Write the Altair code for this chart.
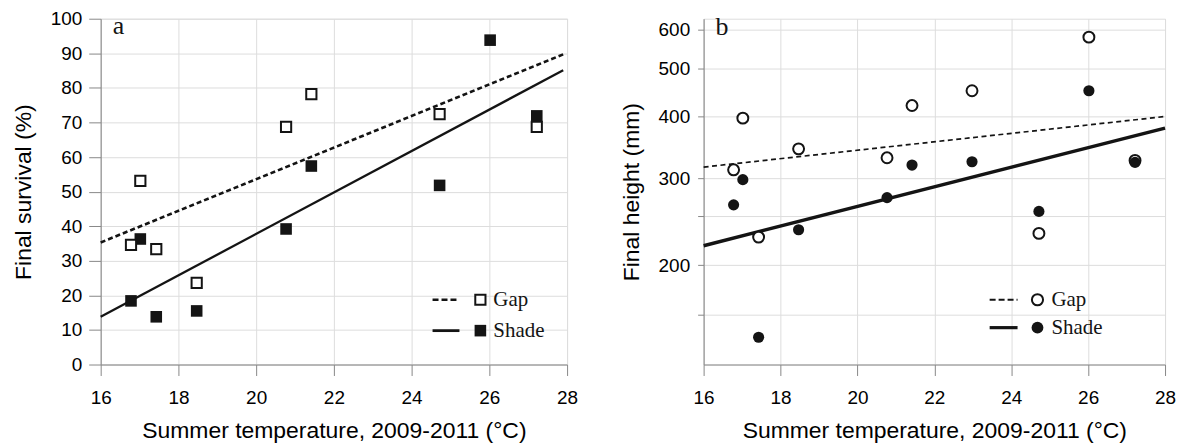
import altair as alt
import pandas as pd

# ---------------- data ----------------
temps = [16.78, 17.02, 17.43, 18.47, 20.77, 21.42, 22.98, 24.72, 26.02, 27.22]
gap_survival = [34.6, 53.1, 33.4, 23.6, 68.7, 78.2, None, 72.4, None, 68.7]
shade_survival = [18.4, 36.3, 13.8, 15.5, 39.2, 57.4, None, 51.8, 93.8, 71.9]
gap_height = [312, 397, 228, 344, 330, 421, 451, 232, 579, 326]
shade_height = [265, 298, 143, 236, 274, 319, 324, 257, 451, 323]

fit_x_a = [16.0, 27.9]
gap_fit_a = [35.3, 89.7]
shade_fit_a = [13.8, 85.1]
fit_x_b = [16.0, 28.0]
gap_fit_b = [316, 400]
shade_fit_b = [219, 379]

x_ticks = [16, 18, 20, 22, 24, 26, 28]
y_ticks_a = [0, 10, 20, 30, 40, 50, 60, 70, 80, 90, 100]
y_ticks_b = [158.5, 200, 251.2, 300, 400, 500, 600]

SANS = "Liberation Sans"
SERIF = "Liberation Serif"
INK = "#141414"
X_TITLE = "Summer temperature, 2009-2011 (°C)"

pts = pd.DataFrame({"temp": temps, "gap_s": gap_survival, "shade_s": shade_survival,
                    "gap_h": gap_height, "shade_h": shade_height})
fit_a = pd.DataFrame({"x": fit_x_a, "gap": gap_fit_a, "shade": shade_fit_a})
fit_b = pd.DataFrame({"x": fit_x_b, "gap": gap_fit_b, "shade": shade_fit_b})
one = pd.DataFrame({"k": [0]})


def x_enc(field):
    return alt.X(field, type="quantitative",
                 scale=alt.Scale(domain=[16, 28], nice=False, zero=False),
                 axis=alt.Axis(values=x_ticks, title=X_TITLE, tickSize=11, labelPadding=13,
                               titlePadding=12, labelFontSize=19, titleFontSize=23,
                               titleFontWeight="normal", labelFlush=False))


W_A, W_B, H = 468, 463, 347

# ---------------- panel a ----------------
ya_scale = alt.Scale(domain=[0, 100], nice=False)
ya_axis = alt.Axis(values=y_ticks_a, title="Final survival (%)", tickSize=12, labelPadding=7,
                   titlePadding=15, labelFontSize=19, titleFontSize=23, titleFontWeight="normal")

line_gap_a = alt.Chart(fit_a).mark_line(color=INK, strokeWidth=2.6, strokeDash=[5, 3]).encode(
    x=x_enc("x"), y=alt.Y("gap:Q", scale=ya_scale, axis=ya_axis))
line_shade_a = alt.Chart(fit_a).mark_line(color=INK, strokeWidth=2.3).encode(
    x=x_enc("x"), y=alt.Y("shade:Q", scale=ya_scale, axis=ya_axis))
shade_a = alt.Chart(pts).mark_point(shape="square", filled=True, color=INK, size=135, opacity=1).encode(
    x=x_enc("temp"), y=alt.Y("shade_s:Q", scale=ya_scale, axis=ya_axis))
gap_a = alt.Chart(pts).mark_point(shape="square", filled=True, fill="white", stroke=INK,
                                  strokeWidth=2, size=105, opacity=1).encode(
    x=x_enc("temp"), y=alt.Y("gap_s:Q", scale=ya_scale, axis=ya_axis))

leg_a = [
    alt.Chart(one).mark_rule(color=INK, strokeWidth=2.6, strokeDash=[6, 3]).encode(
        x=alt.value(333), x2=alt.value(360), y=alt.value(282)),
    alt.Chart(one).mark_point(shape="square", filled=True, fill="white", stroke=INK,
                              strokeWidth=2, size=105, opacity=1).encode(
        x=alt.value(381), y=alt.value(282)),
    alt.Chart(one).mark_text(font=SERIF, fontSize=21, align="left", baseline="middle", color=INK).encode(
        x=alt.value(394), y=alt.value(282), text=alt.value("Gap")),
    alt.Chart(one).mark_rule(color=INK, strokeWidth=2.8).encode(
        x=alt.value(333), x2=alt.value(360), y=alt.value(313)),
    alt.Chart(one).mark_point(shape="square", filled=True, color=INK, size=135, opacity=1).encode(
        x=alt.value(381), y=alt.value(313)),
    alt.Chart(one).mark_text(font=SERIF, fontSize=21, align="left", baseline="middle", color=INK).encode(
        x=alt.value(394), y=alt.value(313), text=alt.value("Shade")),
    alt.Chart(one).mark_text(font=SERIF, fontSize=26, align="left", baseline="alphabetic", color=INK).encode(
        x=alt.value(12), y=alt.value(15), text=alt.value("a")),
]

panel_a = alt.layer(line_gap_a, line_shade_a, shade_a, gap_a, *leg_a).properties(width=W_A, height=H)

# ---------------- panel b ----------------
yb_scale = alt.Scale(type="log", domain=[125.9, 631], nice=False)
yb_axis = alt.Axis(values=y_ticks_b, title="Final height (mm)", tickSize=6, labelPadding=8,
                   titlePadding=15, labelFontSize=19, titleFontSize=23, titleFontWeight="normal",
                   labelExpr="indexof([200,300,400,500,600], datum.value) >= 0 ? datum.label : ''")

line_gap_b = alt.Chart(fit_b).mark_line(color=INK, strokeWidth=1.7, strokeDash=[5, 3.5]).encode(
    x=x_enc("x"), y=alt.Y("gap:Q", scale=yb_scale, axis=yb_axis))
line_shade_b = alt.Chart(fit_b).mark_line(color=INK, strokeWidth=3.4).encode(
    x=x_enc("x"), y=alt.Y("shade:Q", scale=yb_scale, axis=yb_axis))
gap_b = alt.Chart(pts).mark_point(shape="circle", filled=True, fill="white", stroke=INK,
                                  strokeWidth=2, size=120, opacity=1).encode(
    x=x_enc("temp"), y=alt.Y("gap_h:Q", scale=yb_scale, axis=yb_axis))
shade_b = alt.Chart(pts).mark_point(shape="circle", filled=True, color=INK, size=125, opacity=1).encode(
    x=x_enc("temp"), y=alt.Y("shade_h:Q", scale=yb_scale, axis=yb_axis))

leg_b = [
    alt.Chart(one).mark_rule(color=INK, strokeWidth=2.2, strokeDash=[6, 3]).encode(
        x=alt.value(287), x2=alt.value(315), y=alt.value(282)),
    alt.Chart(one).mark_point(shape="circle", filled=True, fill="white", stroke=INK,
                              strokeWidth=2, size=125, opacity=1).encode(
        x=alt.value(335), y=alt.value(282)),
    alt.Chart(one).mark_text(font=SERIF, fontSize=21, align="left", baseline="middle", color=INK).encode(
        x=alt.value(349), y=alt.value(282), text=alt.value("Gap")),
    alt.Chart(one).mark_rule(color=INK, strokeWidth=3.2).encode(
        x=alt.value(287), x2=alt.value(315), y=alt.value(310)),
    alt.Chart(one).mark_point(shape="circle", filled=True, color=INK, size=140, opacity=1).encode(
        x=alt.value(335), y=alt.value(310)),
    alt.Chart(one).mark_text(font=SERIF, fontSize=21, align="left", baseline="middle", color=INK).encode(
        x=alt.value(349), y=alt.value(310), text=alt.value("Shade")),
    alt.Chart(one).mark_text(font=SERIF, fontSize=26, align="left", baseline="alphabetic", color=INK).encode(
        x=alt.value(12), y=alt.value(16), text=alt.value("b")),
]

panel_b = alt.layer(line_gap_b, line_shade_b, gap_b, shade_b, *leg_b).properties(width=W_B, height=H)

chart = alt.hconcat(panel_a, panel_b, spacing=40).properties(
    padding={"left": 3, "top": 0, "right": 0, "bottom": 0}
).configure_view(stroke=None).configure_axis(
    grid=False, labelFont=SANS, titleFont=SANS, labelColor=INK, titleColor=INK,
    domainColor=INK, tickColor=INK, domainWidth=1.6, tickWidth=1.6, titleFontWeight="normal"
).configure(background="white")

chart.save("out.html", embed_options={"renderer": "svg", "actions": False})
